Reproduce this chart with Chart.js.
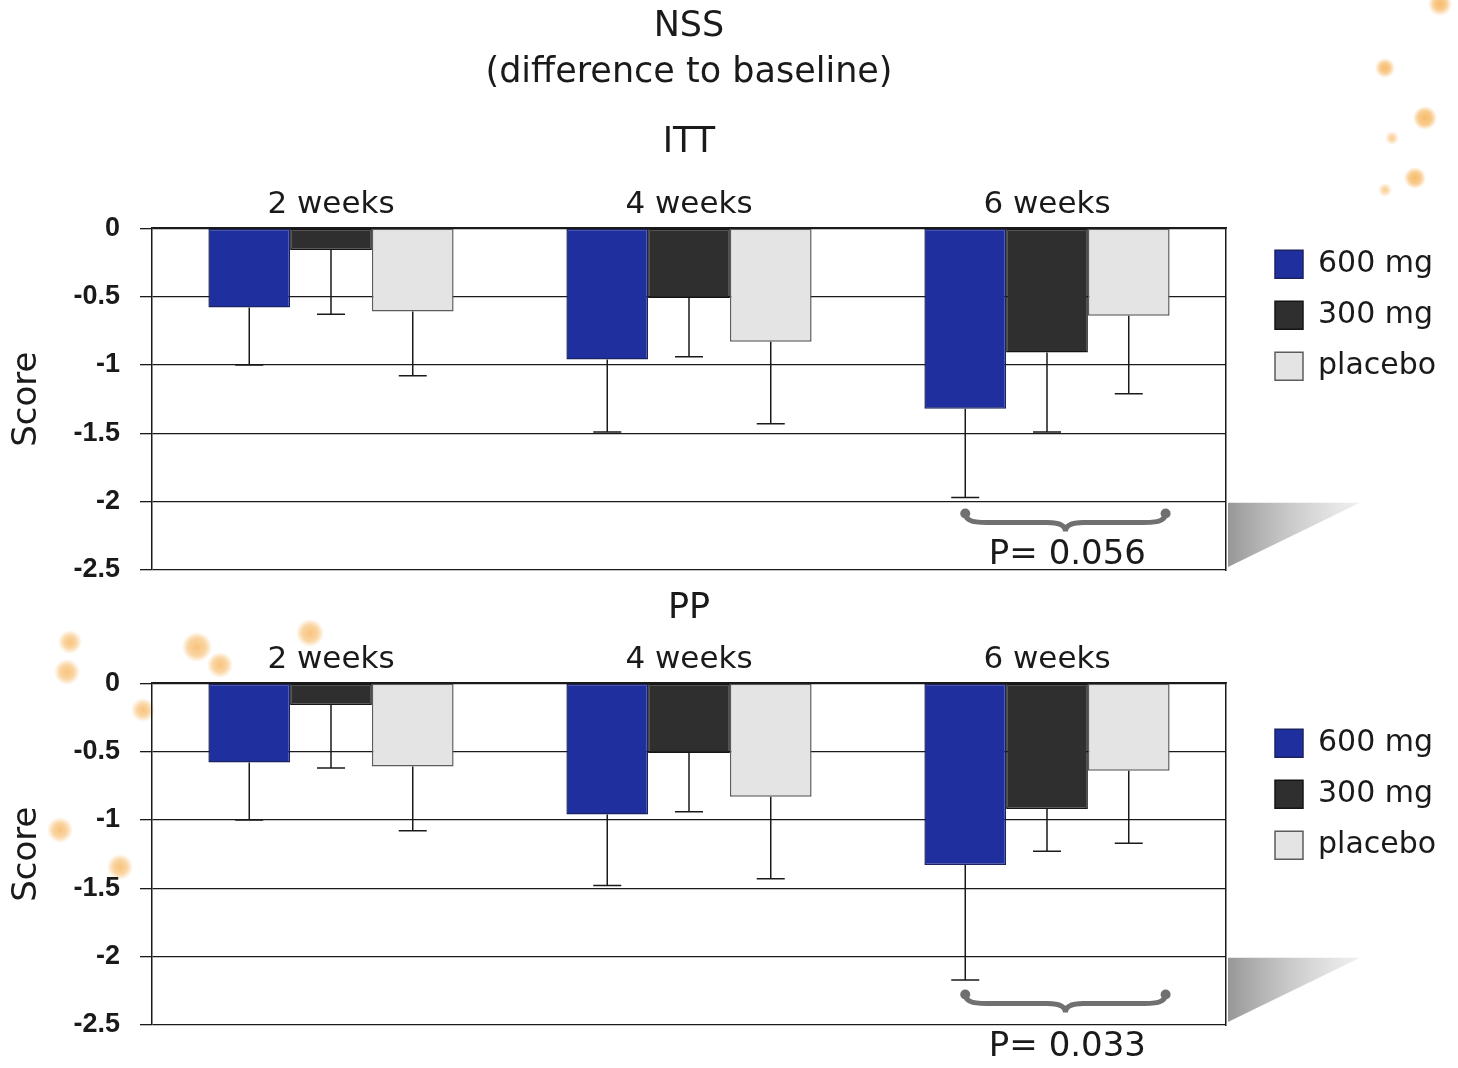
<!DOCTYPE html>
<html>
<head>
<meta charset="utf-8">
<title>NSS (difference to baseline)</title>
<script src="https://cdn.jsdelivr.net/npm/chart.js@4.4.1/dist/chart.umd.min.js"></script>
<style>
  html, body { margin: 0; padding: 0; }
  body {
    width: 1458px; height: 1068px; position: relative; overflow: hidden;
    background-color: #fff;
    /* decorative orange dots of the original slide */
    background-image:
      radial-gradient(circle at 1440px 4px, rgba(245,170,70,.8) 0, rgba(245,170,70,.6) 6px, rgba(245,170,70,0) 12px),
      radial-gradient(circle at 1385px 68px, rgba(245,170,70,.8) 0, rgba(245,170,70,.6) 5px, rgba(245,170,70,0) 10px),
      radial-gradient(circle at 1425px 118px, rgba(245,170,70,.8) 0, rgba(245,170,70,.6) 7px, rgba(245,170,70,0) 12px),
      radial-gradient(circle at 1392px 138px, rgba(245,170,70,.6) 0, rgba(245,170,70,.4) 3px, rgba(245,170,70,0) 7px),
      radial-gradient(circle at 1415px 178px, rgba(245,170,70,.8) 0, rgba(245,170,70,.6) 6px, rgba(245,170,70,0) 11px),
      radial-gradient(circle at 1385px 190px, rgba(245,170,70,.6) 0, rgba(245,170,70,.4) 3px, rgba(245,170,70,0) 7px),
      radial-gradient(circle at 70px 642px, rgba(245,170,70,.7) 0, rgba(245,170,70,.5) 6px, rgba(245,170,70,0) 12px),
      radial-gradient(circle at 67px 672px, rgba(245,170,70,.7) 0, rgba(245,170,70,.5) 7px, rgba(245,170,70,0) 13px),
      radial-gradient(circle at 197px 647px, rgba(245,170,70,.7) 0, rgba(245,170,70,.5) 9px, rgba(245,170,70,0) 15px),
      radial-gradient(circle at 220px 665px, rgba(245,170,70,.7) 0, rgba(245,170,70,.5) 7px, rgba(245,170,70,0) 13px),
      radial-gradient(circle at 310px 633px, rgba(245,170,70,.7) 0, rgba(245,170,70,.5) 8px, rgba(245,170,70,0) 14px),
      radial-gradient(circle at 143px 710px, rgba(245,170,70,.7) 0, rgba(245,170,70,.5) 6px, rgba(245,170,70,0) 12px),
      radial-gradient(circle at 60px 830px, rgba(245,170,70,.7) 0, rgba(245,170,70,.5) 7px, rgba(245,170,70,0) 13px),
      radial-gradient(circle at 120px 867px, rgba(245,170,70,.7) 0, rgba(245,170,70,.5) 7px, rgba(245,170,70,0) 13px);
  }
  canvas { position: absolute; left: 0; }
  #ittChart { top: 0; }
  #ppChart { top: 580px; }
</style>
</head>
<body>
<canvas id="ittChart" width="1458" height="610"></canvas>
<canvas id="ppChart" width="1458" height="488"></canvas>
<script>
const weeks = ['2 weeks', '4 weeks', '6 weeks'];
const doses = ['600 mg', '300 mg', 'placebo'];
const yMin = -2.5, yMax = 0, yStep = 0.5;

// ITT: mean change from baseline, and SD (drawn downwards)
const itt600 = [-0.58, -0.96, -1.32];
const itt300 = [-0.16, -0.51, -0.91];
const ittPlacebo = [-0.61, -0.83, -0.64];
const itt600Sd = [0.42, 0.53, 0.65];
const itt300Sd = [0.47, 0.43, 0.58];
const ittPlaceboSd = [0.47, 0.60, 0.57];
const ittP = 'P= 0.056';

// PP
const pp600 = [-0.58, -0.96, -1.33];
const pp300 = [-0.16, -0.51, -0.92];
const ppPlacebo = [-0.61, -0.83, -0.64];
const pp600Sd = [0.42, 0.52, 0.84];
const pp300Sd = [0.46, 0.43, 0.31];
const ppPlaceboSd = [0.47, 0.60, 0.53];
const ppP = 'P= 0.033';

const doseFill = ['#1f2f9d', '#2f2f2f', '#e4e4e4'];
const doseEdge = ['#1b2260', '#141414', '#5c5c5c'];

const TEXT_FONT = '"DejaVu Sans", "Noto Sans", sans-serif';
const TICK_FONT = '"Liberation Sans", Arial, sans-serif';
const INK = '#1a1a1a';
const PLOT_LEFT = 152, PLOT_RIGHT = 1226;

Chart.defaults.color = INK;

// SD whiskers, only below the bar
const errorBarPlugin = {
  id: 'errorBars',
  afterDatasetsDraw(chart) {
    const ctx = chart.ctx;
    const y = chart.scales.y;
    ctx.save();
    ctx.strokeStyle = INK;
    ctx.lineWidth = 1.5;
    chart.data.datasets.forEach((ds, i) => {
      chart.getDatasetMeta(i).data.forEach((bar, j) => {
        const end = y.getPixelForValue(ds.data[j] - ds.sd[j]);
        ctx.beginPath();
        ctx.moveTo(bar.x, bar.y);
        ctx.lineTo(bar.x, end);
        ctx.moveTo(bar.x - 14, end);
        ctx.lineTo(bar.x + 14, end);
        ctx.stroke();
      });
    });
    ctx.restore();
  }
};

// brace + p value under the 6 weeks group, and the grey shadow on the right
const bracePlugin = {
  id: 'pBrace',
  beforeDraw(chart) {
    const {ctx, chartArea, scales: {y}} = chart;
    const r = chartArea.right + 2;
    const top = y.getPixelForValue(-2) + 1;
    const grad = ctx.createLinearGradient(r, 0, r + 132, 0);
    grad.addColorStop(0, 'rgba(140,140,140,0.9)');
    grad.addColorStop(1, 'rgba(225,225,225,0.5)');
    ctx.save();
    ctx.fillStyle = grad;
    ctx.beginPath();
    ctx.moveTo(r, top);
    ctx.lineTo(r + 132, top);
    ctx.lineTo(r, chartArea.bottom - 3);
    ctx.closePath();
    ctx.fill();
    ctx.restore();
  },
  afterDraw(chart, args, opts) {
    if (!opts.text) return;
    const {ctx, scales: {y}} = chart;
    const last = chart.data.labels.length - 1;
    const a = chart.getDatasetMeta(0).data[last];
    const c = chart.getDatasetMeta(2).data[last];
    const x0 = a.x, x1 = c.x + c.width / 2 - 4;
    const mid = (x0 + x1) / 2;
    const top = y.getPixelForValue(opts.braceAt);
    ctx.save();
    ctx.strokeStyle = '#707070';
    ctx.fillStyle = '#707070';
    ctx.lineWidth = 5;
    ctx.lineCap = 'round';
    ctx.beginPath();
    ctx.moveTo(x0, top);
    ctx.bezierCurveTo(x0, top + 10, x0 + 10, top + 10, x0 + 30, top + 10);
    ctx.lineTo(mid - 18, top + 10);
    ctx.bezierCurveTo(mid - 6, top + 10, mid, top + 13, mid, top + 19);
    ctx.bezierCurveTo(mid, top + 13, mid + 6, top + 10, mid + 18, top + 10);
    ctx.lineTo(x1 - 30, top + 10);
    ctx.bezierCurveTo(x1 - 10, top + 10, x1, top + 10, x1, top);
    ctx.stroke();
    [x0, x1].forEach(x => { ctx.beginPath(); ctx.arc(x, top + 1, 5, 0, Math.PI * 2); ctx.fill(); });
    ctx.fillStyle = INK;
    ctx.font = '34px ' + TEXT_FONT;
    ctx.textAlign = 'center';
    ctx.textBaseline = 'middle';
    ctx.fillText(opts.text, mid + 2, y.getPixelForValue(opts.textAt));
    ctx.restore();
  }
};

function buildChart(canvasId, setup) {
  const series = [setup.s600, setup.s300, setup.sPlacebo];
  const sds = [setup.sd600, setup.sd300, setup.sdPlacebo];
  const chart = new Chart(document.getElementById(canvasId), {
    type: 'bar',
    data: {
      labels: weeks,
      datasets: doses.map((d, i) => ({
        label: d,
        data: series[i],
        sd: sds[i],
        backgroundColor: doseFill[i],
        borderColor: doseEdge[i],
        borderWidth: 1.5,
        borderSkipped: false,
        categoryPercentage: 0.685,
        barPercentage: 1
      }))
    },
    options: {
      responsive: false,
      animation: false,
      layout: { padding: { left: 0, top: 0, right: 0, bottom: setup.padBottom } },
      scales: {
        x: {
          position: 'top',
          grid: { display: false, drawTicks: false },
          border: { display: true, color: INK, width: 1.5 },
          ticks: { padding: 5, font: { family: TEXT_FONT, size: 31 }, color: INK }
        },
        y: {
          min: yMin, max: yMax,
          ticks: {
            stepSize: yStep, padding: 20, color: INK,
            font: { family: TICK_FONT, size: 27, weight: 'bold' },
            callback: v => String(v)
          },
          grid: { color: INK, lineWidth: 1.3, tickLength: 12 },
          border: { display: true, color: INK, width: 1.5 },
          title: { display: true, text: 'Score', font: { family: TEXT_FONT, size: 34 }, padding: { top: 7, bottom: 0 }, color: INK },
          afterFit(s) { s.width = PLOT_LEFT; }
        },
        y2: {
          position: 'right',
          min: yMin, max: yMax,
          ticks: { display: false },
          grid: { display: false, drawTicks: false },
          border: { display: true, color: INK, width: 1.5 },
          afterFit(s) { s.width = 28; }
        }
      },
      plugins: {
        title: {
          display: true, fullSize: false,
          text: setup.title,
          font: { family: TEXT_FONT, size: 35, weight: 'normal', lineHeight: 46 / 35 },
          padding: setup.titlePad,
          color: INK
        },
        subtitle: {
          display: !!setup.subtitle, fullSize: false,
          text: setup.subtitle || '',
          font: { family: TEXT_FONT, size: 35, lineHeight: 46 / 35 },
          padding: { top: 0, bottom: 15 },
          color: INK
        },
        legend: {
          position: 'right', align: 'start', fullSize: false,
          title: { display: setup.legendShift > 0, text: ' ', padding: 0, font: { size: setup.legendShift || 1, lineHeight: 1 } },
          labels: { boxWidth: 28, boxHeight: 28, padding: 21, color: INK, font: { family: TEXT_FONT, size: 30 } }
        },
        tooltip: { enabled: false },
        pBrace: { text: setup.pText, braceAt: setup.braceAt, textAt: setup.textAt }
      }
    },
    plugins: [errorBarPlugin, bracePlugin]
  });
  // pin the plot frame to the same right edge as the original
  const shift = chart.chartArea.right - PLOT_RIGHT;
  chart.options.layout.padding.right += shift;
  chart.update('none');
  return chart;
}

buildChart('ittChart', {
  title: ['NSS', '(difference to baseline)'],
  titlePad: { top: 4, bottom: 24 },
  subtitle: 'ITT',
  s600: itt600, s300: itt300, sPlacebo: ittPlacebo,
  sd600: itt600Sd, sd300: itt300Sd, sdPlacebo: ittPlaceboSd,
  pText: ittP, braceAt: -2.08, textAt: -2.39,
  legendShift: 0,
  padBottom: 40
});

buildChart('ppChart', {
  title: 'PP',
  titlePad: { top: 6, bottom: 4 },
  subtitle: null,
  s600: pp600, s300: pp300, sPlacebo: ppPlacebo,
  sd600: pp600Sd, sd300: pp300Sd, sdPlacebo: ppPlaceboSd,
  pText: ppP, braceAt: -2.27, textAt: -2.66,
  legendShift: 24,
  padBottom: 43
});
</script>
</body>
</html>
